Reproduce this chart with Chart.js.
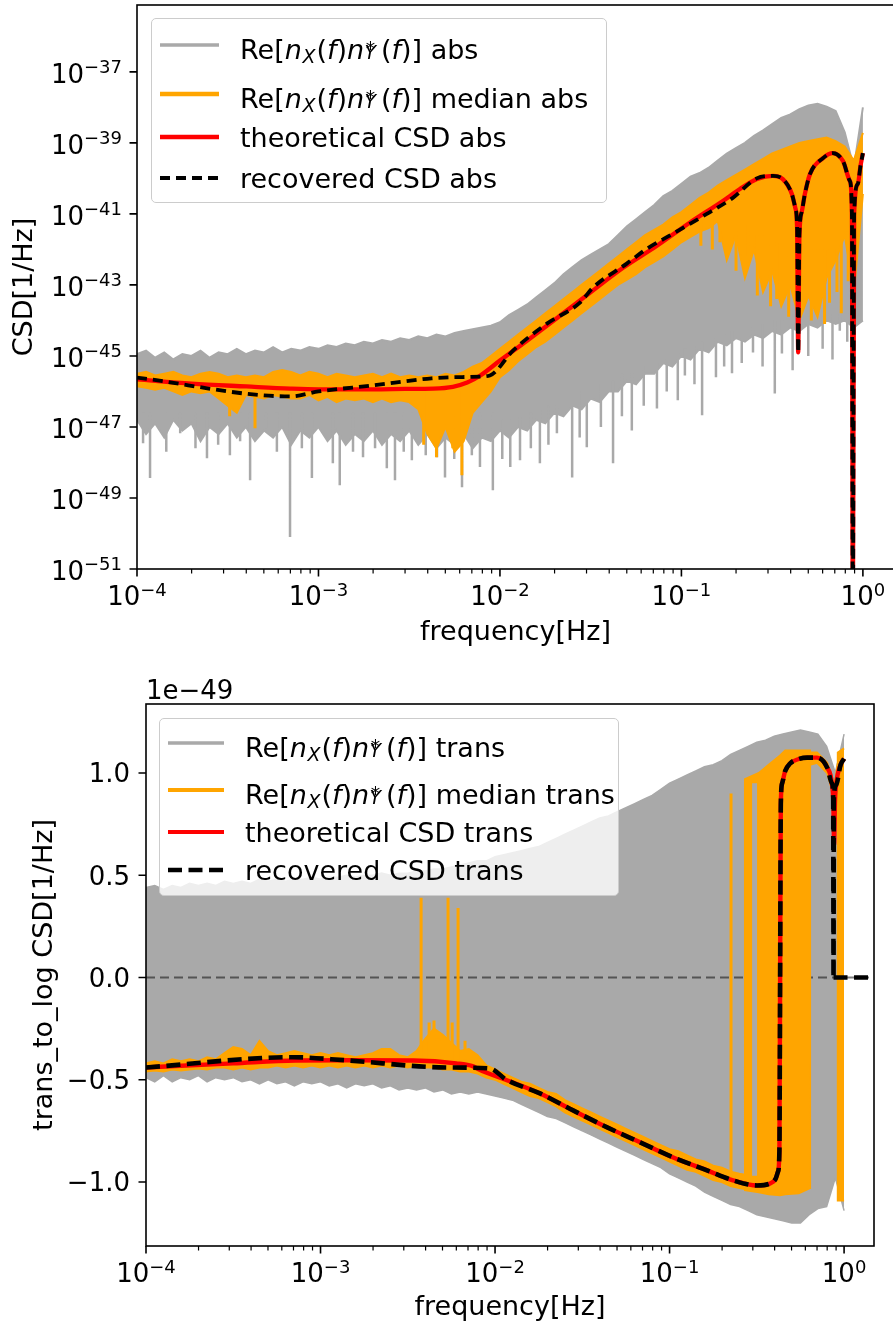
<!DOCTYPE html>
<html>
<head>
<meta charset="utf-8">
<script src="https://cdn.jsdelivr.net/npm/chart.js@4.4.1/dist/chart.umd.min.js"></script>
<style>
  html, body { margin:0; padding:0; background:#fff; }
  body { width:893px; height:1325px; overflow:hidden; position:relative; font-family:"DejaVu Sans", sans-serif; }
  #wrap1 { position:absolute; left:0; top:0; width:900px; height:650px; }
  #wrap2 { position:absolute; left:0; top:650px; width:893px; height:675px; }
  canvas { display:block; }
  .lgbox { position:absolute; box-sizing:border-box; background:rgba(255,255,255,0.8); border:1.3px solid #cccccc; border-radius:5px; }
  .lgtxt { position:absolute; height:27px; font-size:27px; line-height:27px; white-space:nowrap; color:#000; font-family:"DejaVu Sans", sans-serif; }
  .lgh { position:absolute; overflow:visible; }
  .it { font-style:italic; }
  .sb1 { font-style:italic; font-size:0.7em; position:relative; top:0.22em; margin-left:0.03em; margin-right:0.06em; }
  .ss { display:inline-block; position:relative; width:0.62em; height:1em; }
  .ss .sp { position:absolute; left:0.08em; top:0.40em; font-size:0.7em; line-height:1; }
  .ss .sb { position:absolute; left:0.02em; top:0.62em; font-size:0.7em; line-height:1; font-style:italic; }
</style>
</head>
<body>
<div id="wrap1"><canvas id="c1" width="900" height="650"></canvas></div>
<div id="wrap2"><canvas id="c2" width="893" height="675"></canvas></div>
<div id="legends"></div>
<script>
// ---------------- shared frequency grid (Hz) ----------------
const freqGrid = [
  1.000e-4,1.122e-4,1.259e-4,1.413e-4,1.585e-4,1.778e-4,1.995e-4,2.239e-4,2.512e-4,2.818e-4,
  3.162e-4,3.548e-4,3.981e-4,4.467e-4,5.012e-4,5.623e-4,6.310e-4,7.079e-4,7.943e-4,8.913e-4,
  1.000e-3,1.122e-3,1.259e-3,1.413e-3,1.585e-3,1.778e-3,1.995e-3,2.239e-3,2.512e-3,2.818e-3,
  3.162e-3,3.548e-3,3.981e-3,4.467e-3,5.012e-3,5.623e-3,6.310e-3,7.079e-3,7.943e-3,8.913e-3,
  1.000e-2,1.122e-2,1.259e-2,1.413e-2,1.585e-2,1.778e-2,1.995e-2,2.239e-2,2.512e-2,2.818e-2,
  3.162e-2,3.548e-2,3.981e-2,4.467e-2,5.012e-2,5.623e-2,6.310e-2,7.079e-2,7.943e-2,8.913e-2,
  1.000e-1,1.122e-1,1.259e-1,1.413e-1,1.585e-1,1.778e-1,1.995e-1,2.239e-1,2.512e-1,2.818e-1,
  3.162e-1,3.548e-1,3.981e-1,4.467e-1,5.012e-1,5.623e-1,6.310e-1,7.079e-1,7.943e-1,8.913e-1,
  1.000
];

// ---------------- TOP panel: |CSD| (values stored as log10 of CSD [1/Hz]) ----------------
const absGrayTopLog = [
  -44.95,-44.85,-45.05,-44.9,-45.1,-44.95,-45.0,-44.85,-45.05,-44.9,
  -44.95,-44.8,-44.95,-44.85,-44.9,-44.75,-44.9,-44.8,-44.85,-44.75,
  -44.8,-44.7,-44.75,-44.65,-44.7,-44.6,-44.65,-44.55,-44.6,-44.5,
  -44.55,-44.45,-44.5,-44.4,-44.45,-44.35,-44.3,-44.25,-44.2,-44.15,
  -44.05,-43.85,-43.7,-43.55,-43.35,-43.15,-42.95,-42.7,-42.5,-42.3,
  -42.15,-42.0,-41.85,-41.6,-41.35,-41.15,-40.95,-40.75,-40.5,-40.35,
  -40.15,-39.95,-39.85,-39.7,-39.5,-39.3,-39.15,-39.0,-38.8,-38.65,
  -38.47,-38.3,-38.2,-38.05,-37.95,-37.9,-37.98,-38.1,-38.7,-39.7,
  -38.0
];
const absGrayBottomLog = [
  -46.8,-47.2,-46.9,-47.3,-46.8,-47.1,-46.9,-47.4,-47.0,-47.2,
  -46.9,-47.3,-47.0,-47.4,-47.1,-47.3,-47.0,-47.5,-47.1,-47.3,
  -47.0,-47.4,-47.1,-47.5,-47.2,-47.4,-47.1,-47.5,-47.2,-47.4,
  -47.1,-47.5,-47.2,-47.6,-47.3,-47.5,-47.2,-47.6,-47.3,-47.4,
  -47.1,-47.3,-47.0,-47.1,-46.8,-46.9,-46.6,-46.7,-46.4,-46.5,
  -46.2,-46.3,-46.0,-46.0,-45.7,-45.8,-45.5,-45.5,-45.2,-45.3,
  -45.0,-45.1,-44.8,-44.9,-44.6,-44.7,-44.5,-44.6,-44.4,-44.5,
  -44.3,-44.4,-44.2,-44.3,-44.1,-44.2,-44.0,-44.1,-44.0,-44.2,
  -44.0
];
const absGraySpikeF = [1.08e-4,1.18e-4,1.45e-4,1.73e-4,2.1e-4,2.43e-4,2.8e-4,3.25e-4,3.7e-4,4.2e-4,5.13e-4,5.9e-4,6.97e-4,8.1e-4,9.2e-4,1.2e-3,
  1.31e-3,1.55e-3,1.76e-3,2.05e-3,2.38e-3,2.64e-3,2.95e-3,3.27e-3,3.9e-3,4.5e-3,4.98e-3,5.6e-3,6.18e-3,7.0e-3,7.76e-3,9.14e-3,
  1.03e-2,1.14e-2,1.29e-2,1.48e-2,1.66e-2,1.85e-2,2.06e-2,2.5e-2,2.75e-2,3.01e-2,3.6e-2,4.2e-2,4.7e-2,5.33e-2,6.2e-2,7.33e-2,8.3e-2,9.55e-2,
  0.1045,0.118,0.13,0.155,0.172,0.19,0.215,0.248,0.28,0.327,0.358,0.41,0.5,0.6,0.68,0.746,0.82];
const absGraySpikeLowLog = [-47.46,-48.44,-47.7,-47.18,-47.6,-47.88,-47.5,-47.8,-47.4,-48.5,-47.04,-47.7,-50.1,-47.6,-48.44,-48.02,
  -48.64,-47.7,-47.85,-47.6,-48.16,-48.5,-47.7,-47.94,-47.8,-47.85,-48.42,-47.9,-48.7,-47.8,-48.13,-48.78,
  -47.9,-48.13,-47.94,-47.6,-48.02,-47.5,-47.18,-48.42,-47.3,-47.57,-47.0,-48.02,-46.7,-47.1,-46.4,-46.48,-46.0,-46.25,
  -45.55,-45.8,-46.67,-45.6,-45.3,-45.49,-45.2,-44.9,-45.3,-46.06,-44.93,-45.4,-45.0,-44.8,-45.1,-44.29,-44.6];
const absGraySpikeBaseLog = [-46.6,-46.6,-46.6,-46.6,-46.6,-46.6,-46.6,-46.6,-46.6,-46.6,-46.6,-46.6,-46.6,-46.6,-46.6,-46.6,
  -46.6,-46.6,-46.6,-46.6,-46.6,-46.6,-46.6,-46.6,-46.6,-46.6,-46.6,-46.6,-46.6,-46.6,-46.6,-46.6,
  -46.8,-46.8,-46.7,-46.6,-46.5,-46.4,-46.3,-46.1,-46.0,-45.9,-45.8,-45.7,-45.5,-45.4,-45.3,-45.2,-45.0,-44.9,
  -44.8,-44.7,-44.6,-44.5,-44.4,-44.3,-44.3,-44.2,-44.1,-44.0,-44.0,-43.9,-43.9,-43.9,-43.8,-43.8,-43.8];

const absMedTopLog = [
  -45.5,-45.45,-45.55,-45.5,-45.45,-45.55,-45.6,-45.5,-45.45,-45.5,
  -45.6,-45.55,-45.6,-45.55,-45.6,-45.45,-45.4,-45.45,-45.55,-45.45,
  -45.5,-45.6,-45.5,-45.55,-45.6,-45.55,-45.5,-45.6,-45.5,-45.6,
  -45.55,-45.6,-45.55,-45.6,-45.5,-45.55,-45.45,-45.3,-45.2,-45.0,
  -44.8,-44.6,-44.4,-44.2,-44.0,-43.8,-43.6,-43.4,-43.2,-43.0,
  -42.8,-42.6,-42.4,-42.2,-42.0,-41.8,-41.6,-41.45,-41.3,-41.1,
  -40.95,-40.75,-40.55,-40.4,-40.2,-40.05,-39.9,-39.75,-39.6,-39.45,
  -39.3,-39.2,-39.1,-39.0,-38.95,-38.9,-38.85,-38.95,-39.1,-39.5,
  -38.72
];
const absMedBottomLog = [
  -45.85,-45.9,-45.95,-45.9,-46.0,-46.1,-46.0,-46.05,-46.0,-46.2,
  -46.4,-46.6,-46.1,-46.15,-46.2,-46.1,-46.15,-46.2,-46.2,-46.1,
  -46.25,-46.15,-46.3,-46.2,-46.25,-46.2,-46.3,-46.2,-46.3,-46.25,
  -46.3,-46.5,-47.2,-47.6,-47.0,-47.7,-47.4,-46.6,-46.3,-46.0,
  -45.6,-45.4,-45.15,-44.95,-44.75,-44.6,-44.4,-44.2,-44.0,-43.8,
  -43.6,-43.4,-43.2,-43.0,-42.85,-42.7,-42.5,-42.35,-42.2,-42.0,
  -41.8,-41.65,-41.5,-41.4,-41.2,-42.3,-41.6,-42.8,-42.0,-43.2,
  -42.6,-43.6,-43.0,-44.0,-43.3,-43.9,-42.8,-42.3,-41.6,-43.2,
  -40.44
];
const absMedSpikeF = [3.24e-4,4.47e-4,3.8e-3,4.47e-3,5.5e-3,6.17e-3,
  0.128,0.148,0.163,0.2,0.232,0.262,0.29,0.31,0.335,0.39,0.52,0.565,0.615,0.655,0.72,0.76,0.83];
const absMedSpikeLowLog = [-46.7,-47.04,-47.5,-47.85,-47.6,-48.36,
  -41.9,-42.0,-41.8,-42.6,-42.2,-43.3,-43.0,-43.6,-43.4,-43.9,-44.0,-43.7,-44.1,-43.5,-43.2,-43.8,-42.9];
const absMedSpikeBaseLog = [-46.0,-46.0,-46.0,-46.0,-46.0,-46.0,
  -41.0,-41.0,-41.0,-41.3,-41.3,-41.6,-41.6,-41.8,-41.8,-42.0,-42.0,-42.0,-42.0,-42.0,-42.0,-41.8,-41.5];

const absTheoryF = [1e-4,2e-4,4e-4,7e-4,1e-3,2e-3,3e-3,4.3e-3,5.5e-3,6.6e-3,7.8e-3,1e-2,1.41e-2,2.14e-2,3.25e-2,
  4.77e-2,7.33e-2,0.111,0.17,0.21,0.261,0.319,0.362,0.406,0.425,0.434,0.44,0.447,0.46,0.479,0.511,
  0.603,0.684,0.776,0.847,0.87,0.88,0.895,0.937,0.97,1.0];
const absTheoryLog = [-45.66,-45.78,-45.86,-45.92,-45.94,-45.94,-45.93,-45.92,-45.87,-45.75,-45.55,-45.13,-44.57,-43.87,-43.16,
  -42.52,-41.9,-41.25,-40.63,-40.3,-40.02,-39.93,-40.02,-40.44,-40.85,-41.4,-44.9,-41.6,-40.95,-40.44,-39.88,
  -39.43,-39.29,-39.51,-40.07,-41.0,-53.0,-41.0,-40.16,-39.65,-39.29];

const absRecF = [1e-4,7e-4,1e-3,2e-3,4.2e-3,7.8e-3,8.8e-3,1.18e-2,1.815e-2,2.76e-2,3.25e-2,5.0e-2,6.46e-2,8.97e-2,0.138,
  0.192,0.26,0.32,0.362,0.406,0.425,0.434,0.44,0.447,0.46,0.479,0.511,0.603,0.684,0.776,0.847,0.87,0.88,0.895,0.937,0.97,1.0];
const absRecLog = [-45.61,-46.14,-46.0,-45.83,-45.63,-45.58,-45.55,-44.85,-44.09,-43.5,-43.08,-42.4,-41.98,-41.56,-41.0,
  -40.55,-40.0,-39.93,-40.02,-40.44,-40.85,-41.4,-44.9,-41.6,-40.95,-40.44,-39.88,-39.43,-39.29,-39.51,-40.07,-41.0,-53.0,-41.0,-40.16,-39.65,-39.29];

const absXTicks = [1e-4,1e-3,1e-2,1e-1,1];
const absXTickExp = ['\u22124','\u22123','\u22122','\u22121','0'];
const absYTicks = [1e-51,1e-49,1e-47,1e-45,1e-43,1e-41,1e-39,1e-37];
const absYTickExp = ['\u221251','\u221249','\u221247','\u221245','\u221243','\u221241','\u221239','\u221237'];

// ---------------- BOTTOM panel: trans_to_log CSD (units of 1e-49) ----------------
const trGrayTop = [
  0.44,0.45,0.43,0.45,0.44,0.46,0.45,0.46,0.45,0.47,
  0.46,0.47,0.46,0.48,0.47,0.48,0.47,0.48,0.48,0.49,
  0.48,0.49,0.49,0.50,0.49,0.50,0.50,0.51,0.50,0.51,
  0.51,0.52,0.52,0.53,0.53,0.54,0.55,0.56,0.57,0.57,
  0.59,0.60,0.61,0.62,0.63,0.64,0.66,0.68,0.70,0.72,
  0.74,0.76,0.78,0.79,0.81,0.83,0.85,0.87,0.89,0.92,
  0.95,0.97,0.99,1.01,1.03,1.04,1.06,1.09,1.11,1.13,
  1.15,1.16,1.18,1.19,1.20,1.21,1.20,1.19,1.13,1.00,
  1.19
];
const trGrayBottom = [
  -0.49,-0.51,-0.48,-0.51,-0.49,-0.50,-0.48,-0.51,-0.49,-0.50,
  -0.49,-0.51,-0.50,-0.52,-0.50,-0.52,-0.51,-0.53,-0.51,-0.52,
  -0.51,-0.53,-0.52,-0.54,-0.52,-0.53,-0.52,-0.54,-0.53,-0.55,
  -0.54,-0.55,-0.54,-0.56,-0.55,-0.57,-0.56,-0.57,-0.56,-0.57,
  -0.58,-0.59,-0.60,-0.62,-0.64,-0.66,-0.68,-0.69,-0.71,-0.73,
  -0.75,-0.77,-0.79,-0.81,-0.83,-0.85,-0.87,-0.89,-0.91,-0.93,
  -0.96,-0.98,-1.00,-1.02,-1.05,-1.07,-1.09,-1.11,-1.12,-1.14,
  -1.16,-1.17,-1.18,-1.19,-1.20,-1.20,-1.16,-1.13,-1.12,-0.98,
  -1.14
];
const trMedF = [
  1.000e-4,1.122e-4,1.259e-4,1.413e-4,1.585e-4,1.778e-4,1.995e-4,2.239e-4,2.512e-4,2.818e-4,
  3.162e-4,3.548e-4,3.981e-4,4.467e-4,5.012e-4,5.623e-4,6.310e-4,7.079e-4,7.943e-4,8.913e-4,
  1.000e-3,1.122e-3,1.259e-3,1.413e-3,1.585e-3,1.778e-3,1.995e-3,2.239e-3,2.512e-3,2.818e-3,
  3.162e-3,3.548e-3,3.981e-3,4.467e-3,5.012e-3,5.623e-3,6.310e-3,7.079e-3,7.943e-3,8.913e-3,
  1.000e-2,1.122e-2,1.259e-2,1.413e-2,1.585e-2,1.778e-2,1.995e-2,2.239e-2,2.512e-2,2.818e-2,
  3.162e-2,3.548e-2,3.981e-2,4.467e-2,5.012e-2,5.623e-2,6.310e-2,7.079e-2,7.943e-2,8.913e-2,
  1.000e-1,1.122e-1,1.259e-1,1.413e-1,1.585e-1,1.778e-1,1.995e-1,2.239e-1,2.512e-1,
  0.270,0.2705,0.325,0.37,0.43,0.46,0.55,0.638,0.6385,0.70,0.80,0.851,0.875,0.90,0.92,0.9205,1.0
];
const trMedTop = [
  -0.42,-0.41,-0.42,-0.40,-0.41,-0.40,-0.41,-0.39,-0.40,-0.37,
  -0.34,-0.35,-0.38,-0.31,-0.36,-0.38,-0.37,-0.36,-0.37,-0.38,
  -0.37,-0.38,-0.37,-0.38,-0.39,-0.38,-0.37,-0.35,-0.35,-0.38,
  -0.39,-0.36,-0.30,-0.25,-0.28,-0.32,-0.36,-0.35,-0.38,-0.43,
  -0.45,-0.47,-0.49,-0.51,-0.52,-0.54,-0.56,-0.57,-0.60,-0.62,
  -0.64,-0.66,-0.68,-0.70,-0.72,-0.74,-0.76,-0.78,-0.80,-0.82,
  -0.84,-0.85,-0.87,-0.89,-0.90,-0.92,-0.93,-0.95,-0.96,
  -0.965,0.97,1.0,1.04,1.085,1.11,1.11,1.11,1.10,1.10,1.05,0.98,0.93,0.99,1.05,1.10,1.12
];
const trMedBottom = [
  -0.46,-0.455,-0.46,-0.45,-0.455,-0.45,-0.445,-0.45,-0.44,-0.44,
  -0.45,-0.44,-0.45,-0.44,-0.44,-0.43,-0.44,-0.43,-0.44,-0.43,
  -0.44,-0.43,-0.44,-0.43,-0.44,-0.43,-0.44,-0.43,-0.44,-0.43,
  -0.44,-0.43,-0.44,-0.44,-0.45,-0.45,-0.46,-0.46,-0.47,-0.49,
  -0.50,-0.52,-0.54,-0.56,-0.58,-0.59,-0.61,-0.63,-0.66,-0.68,
  -0.70,-0.72,-0.74,-0.76,-0.78,-0.80,-0.82,-0.84,-0.86,-0.88,
  -0.90,-0.92,-0.94,-0.95,-0.97,-0.99,-1.00,-1.02,-1.03,
  -1.035,-1.04,-1.05,-1.06,-1.065,-1.06,-1.055,-1.03,1.04,1.05,1.00,0.92,0.68,0.93,1.00,-1.09,-1.09
];
const trMedSpikeF = [3.77e-3,4.19e-3,4.47e-3,4.77e-3,5.38e-3,5.68e-3,6.14e-3,6.73e-3,0.225];
const trMedSpikeTop = [0.39,-0.22,-0.21,-0.30,0.39,-0.22,0.34,-0.31,0.90];
const trMedSpikeBase = [-0.40,-0.40,-0.40,-0.40,-0.40,-0.40,-0.40,-0.40,-0.98];
const trGrayGapF = [0.302,0.312];

const trTheoryF = [1e-4,3.16e-4,7.2e-4,1.58e-3,3.4e-3,6.0e-3,7.5e-3,8.1e-3,1.15e-2,1.81e-2,2.8e-2,4.39e-2,6.78e-2,0.105,0.164,
  0.231,0.317,0.377,0.405,0.418,0.426,0.430,0.434,0.442,0.46,0.49,0.55,0.614,0.70,0.80,0.851,0.868,0.877,0.886,0.90,0.955,1.0];
const trTheory = [-0.44,-0.42,-0.406,-0.405,-0.406,-0.42,-0.435,-0.45,-0.50,-0.567,-0.65,-0.733,-0.806,-0.88,-0.943,
  -0.992,-1.017,-1.007,-0.985,-0.95,-0.85,0.0,0.85,0.95,1.01,1.046,1.068,1.075,1.075,1.026,0.95,0.85,0.65,0.85,0.94,1.04,1.07];

const trRecF = [1e-4,6.95e-4,1.4e-3,5.2e-3,9.35e-3,1.16e-2,1.81e-2,2.8e-2,4.39e-2,6.78e-2,0.105,0.164,0.231,0.317,0.377,
  0.405,0.418,0.426,0.430,0.434,0.442,0.46,0.49,0.55,0.614,0.70,0.80,0.851,0.866,0.870,0.874,0.90,0.955,1.0,1.0,0.870,2.0];
const trRec = [-0.44,-0.39,-0.405,-0.44,-0.445,-0.50,-0.567,-0.65,-0.733,-0.806,-0.88,-0.943,-0.992,-1.017,-1.007,
  -0.985,-0.95,-0.85,0.0,0.85,0.95,1.01,1.046,1.068,1.075,1.075,1.026,0.95,0.88,0.0,0.88,0.94,1.04,1.07,null,0.0,0.0];

const trXTicks = [1e-4,1e-3,1e-2,1e-1,1];
const trXTickExp = ['\u22124','\u22123','\u22122','\u22121','0'];
const trYTicks = [-1.0,-0.5,0.0,0.5,1.0];
const trYTickLabels = ['\u22121.0','\u22120.5','0.0','0.5','1.0'];
const trOffsetText = '1e\u221249';

const X_MIN = 1e-4, X_MAX = 1.484;

// ---------------- helpers ----------------
const FONT = '"DejaVu Sans", sans-serif';
const GRAY = '#a9a9a9', ORANGE = '#ffa500', RED = '#ff0000';
const toPts = (xs, ys, isLog) => xs.map((x, i) => ({ x, y: ys[i] == null ? null : (isLog ? Math.pow(10, ys[i]) : ys[i]) }));
function spikePts(fs, ends, bases, isLog) {
  const cv = v => isLog ? Math.pow(10, v) : v;
  const d = [];
  fs.forEach((f, i) => { d.push({ x: f, y: cv(bases[i]) }, { x: f, y: cv(ends[i]) }, { x: f, y: null }); });
  return d;
}
function minorTicks(majors) {
  const out = [];
  majors.forEach(m => { for (let k = 2; k <= 9; k++) { const v = m * k; if (v <= X_MAX) out.push(v); } });
  return out;
}
function powLabel(ctx, x, baseY, supY, exp, align) {
  ctx.font = '26px ' + FONT; const w1 = ctx.measureText('10').width;
  ctx.font = '18px ' + FONT; const w2 = ctx.measureText(exp).width;
  const x0 = align === 'center' ? x - (w1 + w2) / 2 : x - (w1 + w2);
  ctx.textAlign = 'left'; ctx.textBaseline = 'alphabetic';
  ctx.font = '26px ' + FONT; ctx.fillText('10', x0, baseY);
  ctx.font = '18px ' + FONT; ctx.fillText(exp, x0 + w1, supY);
}

function decor(cfg) {
  return {
    id: 'decor',
    afterDraw(chart) {
      const ctx = chart.ctx, a = chart.chartArea, xs = chart.scales.x, ys = chart.scales.y;
      ctx.save();
      ctx.fillStyle = '#000'; ctx.strokeStyle = '#000';
      ctx.lineWidth = 1.6; ctx.beginPath();
      cfg.xMajor.forEach(v => { const x = xs.getPixelForValue(v); ctx.moveTo(x, a.bottom); ctx.lineTo(x, a.bottom + 7.5); });
      cfg.yMajor.forEach(v => { const y = ys.getPixelForValue(v); ctx.moveTo(a.left, y); ctx.lineTo(a.left - 7.5, y); });
      ctx.stroke();
      ctx.lineWidth = 1.2; ctx.beginPath();
      minorTicks(cfg.xMajor).forEach(v => { const x = xs.getPixelForValue(v); ctx.moveTo(x, a.bottom); ctx.lineTo(x, a.bottom + 4.5); });
      ctx.stroke();
      ctx.lineWidth = 1.6;
      ctx.strokeRect(a.left, a.top, a.right - a.left, a.bottom - a.top);
      cfg.xMajor.forEach((v, i) => powLabel(ctx, xs.getPixelForValue(v), a.bottom + 36, a.bottom + 27, cfg.xExp[i], 'center'));
      if (cfg.yExp) {
        cfg.yMajor.forEach((v, i) => { const y = ys.getPixelForValue(v); powLabel(ctx, a.left - 15, y + 11, y + 1, cfg.yExp[i], 'right'); });
      } else {
        ctx.font = '26px ' + FONT; ctx.textAlign = 'right'; ctx.textBaseline = 'alphabetic';
        cfg.yMajor.forEach((v, i) => { const y = ys.getPixelForValue(v); ctx.fillText(cfg.yLabels[i], a.left - 16, y + 9.5); });
      }
      if (cfg.offsetText) {
        ctx.font = '26px ' + FONT; ctx.textAlign = 'left'; ctx.textBaseline = 'alphabetic';
        ctx.fillText(cfg.offsetText, a.left, a.top - 5);
      }
      ctx.font = '27px ' + FONT; ctx.textAlign = 'center'; ctx.textBaseline = 'alphabetic';
      ctx.fillText(cfg.xTitle, (a.left + a.right) / 2, cfg.xTitleY);
      ctx.translate(cfg.yTitleX, (a.top + a.bottom) / 2);
      ctx.rotate(-Math.PI / 2);
      ctx.fillText(cfg.yTitle, 0, 0);
      ctx.restore();
    }
  };
}

const common = {
  responsive: false, animation: false, devicePixelRatio: 1,
  plugins: { legend: { display: false }, tooltip: { enabled: false } },
  elements: { point: { radius: 0, hoverRadius: 0 } },
  events: []
};
function lineDs(data, color, width, extra) {
  return Object.assign({ data, borderColor: color, backgroundColor: color, borderWidth: width, pointRadius: 0, fill: false, spanGaps: false, tension: 0 }, extra || {});
}

// ---------------- TOP chart ----------------
new Chart(document.getElementById('c1'), {
  type: 'line',
  data: { datasets: [
    lineDs(toPts(absRecF, absRecLog, true), '#000', 3.8, { borderDash: [10, 6], cubicInterpolationMode: 'monotone', order: 0 }),
    lineDs(toPts(absTheoryF, absTheoryLog, true), RED, 4.3, { cubicInterpolationMode: 'monotone', order: 1 }),
    lineDs(spikePts(absMedSpikeF, absMedSpikeLowLog, absMedSpikeBaseLog, true), ORANGE, 3, { order: 2 }),
    lineDs(toPts(freqGrid, absMedTopLog, true), ORANGE, 2, { order: 3 }),
    lineDs(toPts(freqGrid, absMedBottomLog, true), ORANGE, 2, { order: 4, fill: { target: 3 }, backgroundColor: ORANGE }),
    lineDs(spikePts(absGraySpikeF, absGraySpikeLowLog, absGraySpikeBaseLog, true), GRAY, 2.5, { order: 5 }),
    lineDs(toPts(freqGrid, absGrayTopLog, true), GRAY, 2, { order: 6 }),
    lineDs(toPts(freqGrid, absGrayBottomLog, true), GRAY, 2, { order: 7, fill: { target: 6 }, backgroundColor: GRAY })
  ]},
  options: Object.assign({}, common, {
    layout: { padding: { left: 137, top: 5, right: 6, bottom: 81 } },
    scales: {
      x: { type: 'logarithmic', min: X_MIN, max: X_MAX, display: false },
      y: { type: 'logarithmic', min: 1e-51, max: 7.62e-36, display: false }
    }
  }),
  plugins: [decor({ xMajor: absXTicks, xExp: absXTickExp, yMajor: absYTicks, yExp: absYTickExp,
    xTitle: 'frequency[Hz]', xTitleY: 640, yTitle: 'CSD[1/Hz]', yTitleX: 32 })]
});

// ---------------- BOTTOM chart ----------------
new Chart(document.getElementById('c2'), {
  type: 'line',
  data: { datasets: [
    lineDs(toPts(trRecF, trRec, false), '#000', 4.6, { borderDash: [14, 6.5], cubicInterpolationMode: 'monotone', order: 0 }),
    lineDs(toPts(trTheoryF, trTheory, false), RED, 4.4, { cubicInterpolationMode: 'monotone', order: 1 }),
    lineDs(spikePts(trMedSpikeF, trMedSpikeTop, trMedSpikeBase, false), ORANGE, 3, { order: 2 }),
    lineDs(spikePts(trGrayGapF, [0.95, 0.95], [-0.97, -0.97], false), GRAY, 2.5, { order: 2.5 }),
    lineDs(toPts(trMedF, trMedTop, false), ORANGE, 2, { order: 3 }),
    lineDs(toPts(trMedF, trMedBottom, false), ORANGE, 2, { order: 4, fill: { target: 4 }, backgroundColor: ORANGE }),
    lineDs([{ x: X_MIN, y: 0 }, { x: X_MAX, y: 0 }], 'rgba(0,0,0,0.5)', 2, { borderDash: [9, 5], order: 5 }),
    lineDs(toPts(freqGrid, trGrayTop, false), GRAY, 1.5, { order: 6 }),
    lineDs(toPts(freqGrid, trGrayBottom, false), GRAY, 1.5, { order: 7, fill: { target: 7 }, backgroundColor: GRAY })
  ]},
  options: Object.assign({}, common, {
    layout: { padding: { left: 146, top: 54, right: 19, bottom: 79 } },
    scales: {
      x: { type: 'logarithmic', min: X_MIN, max: X_MAX, display: false },
      y: { type: 'linear', min: -1.313, max: 1.337, display: false }
    }
  }),
  plugins: [decor({ xMajor: trXTicks, xExp: trXTickExp, yMajor: trYTicks, yLabels: trYTickLabels,
    offsetText: trOffsetText, xTitle: 'frequency[Hz]', xTitleY: 665, yTitle: 'trans_to_log CSD[1/Hz]', yTitleX: 52 })]
});

// ---------------- legends (HTML, real text) ----------------
function mathLabel(suffix) {
  return 'Re[<span class="it">n</span><span class="sb1">X</span>(<span class="it">f</span>)<span class="it">n</span>' +
    '<span class="ss"><span class="sp">*</span><span class="sb">Y</span></span>(<span class="it">f</span>)] ' + suffix;
}
function buildLegend(box, rows, hx0, hx1, tx) {
  const root = document.getElementById('legends');
  const b = document.createElement('div');
  b.className = 'lgbox';
  Object.assign(b.style, { left: box[0] + 'px', top: box[1] + 'px', width: box[2] + 'px', height: box[3] + 'px' });
  root.appendChild(b);
  rows.forEach(r => {
    const w = hx1 - hx0;
    const svg = document.createElementNS('http://www.w3.org/2000/svg', 'svg');
    svg.setAttribute('class', 'lgh'); svg.setAttribute('width', w); svg.setAttribute('height', 12);
    svg.style.left = hx0 + 'px'; svg.style.top = (r.y - 6) + 'px';
    const ln = document.createElementNS('http://www.w3.org/2000/svg', 'line');
    ln.setAttribute('x1', 0); ln.setAttribute('x2', w); ln.setAttribute('y1', 6); ln.setAttribute('y2', 6);
    ln.setAttribute('stroke', r.color); ln.setAttribute('stroke-width', r.lw);
    if (r.dash) ln.setAttribute('stroke-dasharray', r.dash);
    svg.appendChild(ln); root.appendChild(svg);
    const t = document.createElement('div');
    t.className = 'lgtxt'; t.style.left = tx + 'px'; t.style.top = (r.y - 13.5) + 'px';
    t.innerHTML = r.html; root.appendChild(t);
  });
}
buildLegend([151, 18, 456, 185], [
  { y: 45, color: GRAY, lw: 3.3, html: mathLabel('abs') },
  { y: 94, color: ORANGE, lw: 4.3, html: mathLabel('median abs') },
  { y: 137, color: RED, lw: 4.3, html: 'theoretical CSD abs' },
  { y: 178, color: '#000', lw: 3.8, dash: '10 6', html: 'recovered CSD abs' }
], 160, 219, 240);
buildLegend([159, 718, 460, 178], [
  { y: 743, color: GRAY, lw: 3.3, html: mathLabel('trans') },
  { y: 790, color: ORANGE, lw: 3.8, html: mathLabel('median trans') },
  { y: 832, color: RED, lw: 4.2, html: 'theoretical CSD trans' },
  { y: 870, color: '#000', lw: 4.6, dash: '14 6.5', html: 'recovered CSD trans' }
], 168, 224, 245);
</script>
</body>
</html>
